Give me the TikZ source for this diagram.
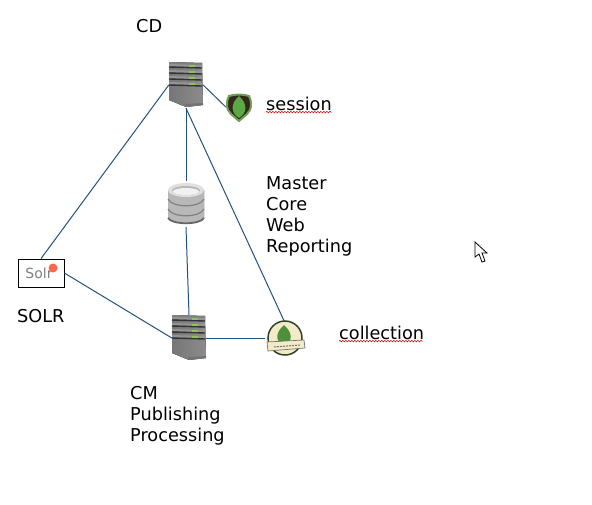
\documentclass[tikz,border=0pt]{standalone}
\usepackage{fontspec}
\setmainfont{DejaVu Sans}
\usetikzlibrary{decorations.pathmorphing}
\definecolor{linkblue}{HTML}{24527F}
\definecolor{srvdark}{HTML}{333333}
\definecolor{srvmid}{HTML}{8C8C8C}
\definecolor{srvlight}{HTML}{767676}
\definecolor{leafgreen}{HTML}{5CA845}
\definecolor{shieldedge}{HTML}{6F9F58}
\definecolor{shieldfill}{HTML}{33291B}
\definecolor{ledgreen}{HTML}{8CC45A}
\definecolor{badge}{HTML}{F2EBC8}
\definecolor{badgeedge}{HTML}{34402A}
\tikzset{
  x=1pt,y=-1pt,
  lbl/.style={font=\fontsize{17.7}{21}\selectfont,align=left,anchor=north west,inner sep=0pt,text=black},
  link/.style={draw=linkblue,line width=1pt},
  slot/.style={minimum width=#1,inner sep=0pt,draw=none,fill=none},
  spell/.style={draw=red!75!black,line width=.5pt,decorate,decoration={snake,amplitude=.8pt,segment length=3pt}},
  server/.pic={
    \fill[left color=srvlight,right color=srvmid] (-17,-23) -- (16,-22) -- (17,20) -- (0,22) -- (-17,15) -- cycle;
    \fill[black!50] (-17,-23) -- (16,-22) -- (16,-18) -- (-17,-19) -- cycle;
    \fill[black!55] (-1,22) -- (17,20) -- (17,18) -- (-1,19) -- cycle;
    \foreach \yy in {-17,-11,-5,1}{
      \fill[black!42] (-17,\yy-4) -- (16,\yy-3) -- (16,\yy-1) -- (-17,\yy-2) -- cycle;
      \draw[srvdark,line width=1.4pt] (-17,\yy-1) -- (16,\yy);
      \fill[ledgreen] (3,\yy-3) rectangle (9,\yy-1);
    }
  },
  dbstack/.pic={
    \fill[left color=black!28,middle color=black!5,right color=black!28] (-18,-14) .. controls (-18,-6) and (-18,6) .. (-18,14) .. controls (-14,21) and (14,21) .. (18,14) .. controls (18,6) and (18,-6) .. (18,-14) -- cycle;
    \fill[black!12] (0,-14) ellipse[x radius=18,y radius=7];
    \fill[black!28] (0,-13.5) ellipse[x radius=14,y radius=4.5];
    \fill[black!5] (0,-12.5) ellipse[x radius=13,y radius=3.5];
    \foreach \yy in {-5,5}{
      \draw[black!50,line width=1.2pt] (-18,\yy) .. controls (-14,\yy+9) and (14,\yy+9) .. (18,\yy);
    }
    \draw[black!60,line width=1.8pt] (-18,14) .. controls (-14,21) and (14,21) .. (18,14);
  },
  shieldleaf/.pic={
    \fill[shieldfill,draw=shieldedge,line width=2pt] (0,14) .. controls (-5,9) and (-12,6) .. (-12,-2) .. controls (-12,-7) and (-11,-9) .. (-10,-11) .. controls (-4,-13) and (4,-13) .. (10,-11) .. controls (11,-9) and (12,-7) .. (12,-2) .. controls (12,6) and (5,9) .. (0,14) -- cycle;
    \fill[leafgreen] (0,-11) .. controls (-9,-3) and (-8,6) .. (0,11) .. controls (8,6) and (9,-3) .. (0,-11) -- cycle;
  },
  badgeleaf/.pic={
    \fill[badge,draw=badgeedge,line width=1.5pt] (0,0) circle[radius=17];
    \fill[leafgreen!85!black] (-1,-13) .. controls (-10,-5) and (-10,3) .. (-1,9) .. controls (8,3) and (8,-5) .. (-1,-13) -- cycle;
    \fill[badge,draw=black!55,line width=.7pt] (-18,4) -- (19,2) -- (20,10) -- (-17,13) -- cycle;
    \draw[black!55,line width=1pt,dash pattern=on 2pt off 1pt] (-11,9) -- (15,7);
  }
}
\begin{document}
\begin{tikzpicture}
\useasboundingbox (0,0) rectangle (592,504);
\fill[white] (0,0) rectangle (592,504);

% icon slots (named nodes that the connectors attach to)
\node[slot=34,minimum height=46] (cd) at (186,85) {};
\node[slot=34,minimum height=46] (cm) at (189,338) {};
\node[slot=36,minimum height=46] (db) at (186,204) {};
\node[slot=26,minimum height=28] (sess) at (239,107) {};
\node[slot=40,minimum height=30] (coll) at (285,338) {};
\node[draw=black,line width=.8pt,minimum width=46,minimum height=28,inner sep=0pt,text=black!50,
  font=\fontsize{14}{16}\selectfont] (solr) at (41,273) {\hspace{-4pt}Solr};

% connectors
\draw[link] (cd.west) -- (solr.north);
\draw[link] (cd.east) -- (sess.west);
\draw[link] (cd.south) -- (db.north);
\draw[link] (cd.south) -- (coll.north);
\draw[link] (db.south) -- (cm.north);
\draw[link] (solr.east) -- (cm.west);
\draw[link] (cm.east) -- (coll.west);

% icons
\pic at (cd) {server};
\pic at (cm) {server};
\pic at (db) {dbstack};
\pic at (sess) {shieldleaf};
\pic at (285,338) {badgeleaf};
\fill[red!70!orange!70] (53,268) circle[radius=4.5];

% labels
\node[lbl] (tcd) at (136,19) {CD};
\node[lbl] (tsess) at (266,97) {session};
\node[lbl] (tmaster) at (266,176) {Master\\Core\\Web\\Reporting};
\node[lbl] (tsolr) at (17,309) {SOLR};
\node[lbl] (tcoll) at (339,326) {collection};
\node[lbl] (tcm) at (130,386) {CM\\Publishing\\Processing};

% spell-check underlines
\draw[spell] (tsess.south west) ++(0,1) -- ++(66,0);
\draw[spell] (tcoll.south west) ++(0,1) -- ++(84,0);

% mouse pointer
\draw[black,fill=white,line width=.8pt,line join=miter] (475,242) -- (475,257) -- (479,254) -- (482,262) -- (485,261) -- (482,253) -- (487,253) -- cycle;
\end{tikzpicture}
\end{document}
